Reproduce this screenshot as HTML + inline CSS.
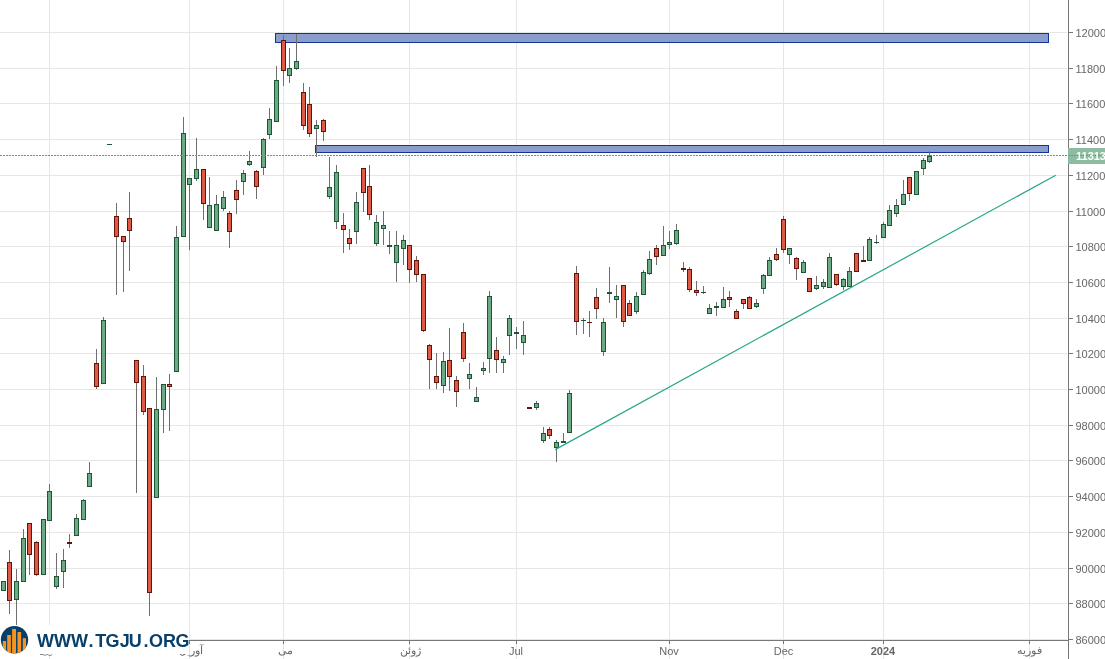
<!DOCTYPE html><html><head><meta charset="utf-8"><title>chart</title><style>
html,body{margin:0;padding:0;background:#fff;}
body{width:1105px;height:659px;overflow:hidden;position:relative;font-family:"Liberation Sans",sans-serif;}
svg{position:absolute;left:0;top:0;will-change:transform;}
.yl{font-size:11px;fill:#666666;}
.xl{font-size:11px;fill:#666666;}
</style></head><body>
<svg width="1105" height="659" viewBox="0 0 1105 659">
<g shape-rendering="crispEdges" fill="#e6e6e6">
<rect x="0" y="32" width="1067" height="1"/>
<rect x="0" y="68" width="1067" height="1"/>
<rect x="0" y="103" width="1067" height="1"/>
<rect x="0" y="139" width="1067" height="1"/>
<rect x="0" y="175" width="1067" height="1"/>
<rect x="0" y="211" width="1067" height="1"/>
<rect x="0" y="246" width="1067" height="1"/>
<rect x="0" y="282" width="1067" height="1"/>
<rect x="0" y="318" width="1067" height="1"/>
<rect x="0" y="353" width="1067" height="1"/>
<rect x="0" y="389" width="1067" height="1"/>
<rect x="0" y="425" width="1067" height="1"/>
<rect x="0" y="460" width="1067" height="1"/>
<rect x="0" y="496" width="1067" height="1"/>
<rect x="0" y="532" width="1067" height="1"/>
<rect x="0" y="568" width="1067" height="1"/>
<rect x="0" y="603" width="1067" height="1"/>
<rect x="0" y="639" width="1067" height="1"/>
<rect x="49" y="0" width="1" height="659"/>
<rect x="189" y="0" width="1" height="659"/>
<rect x="283" y="0" width="1" height="659"/>
<rect x="409" y="0" width="1" height="659"/>
<rect x="516" y="0" width="1" height="659"/>
<rect x="669" y="0" width="1" height="659"/>
<rect x="783" y="0" width="1" height="659"/>
<rect x="883" y="0" width="1" height="659"/>
<rect x="1029" y="0" width="1" height="659"/>
</g>
<g shape-rendering="crispEdges">
<rect x="275" y="33" width="774" height="10" fill="#12339a"/>
<rect x="276" y="34" width="772" height="8" fill="#8b9dcd"/>
<rect x="315" y="145" width="734" height="8" fill="#12339a"/>
<rect x="316" y="146" width="732" height="6" fill="#8b9dcd"/>
</g>
<g shape-rendering="crispEdges">
<rect x="1" y="581" width="5" height="10" fill="#1e5534"/>
<rect x="2" y="582" width="3" height="8" fill="#6caa86"/>
<rect x="9" y="550" width="1" height="12" fill="#6f6f6f"/>
<rect x="9" y="601" width="1" height="13" fill="#6f6f6f"/>
<rect x="7" y="562" width="5" height="39" fill="#62130a"/>
<rect x="8" y="563" width="3" height="37" fill="#dd5a47"/>
<rect x="16" y="569" width="1" height="12" fill="#6f6f6f"/>
<rect x="16" y="600" width="1" height="25" fill="#6f6f6f"/>
<rect x="14" y="581" width="5" height="19" fill="#1e5534"/>
<rect x="15" y="582" width="3" height="17" fill="#6caa86"/>
<rect x="23" y="529" width="1" height="9" fill="#6f6f6f"/>
<rect x="21" y="538" width="5" height="44" fill="#1e5534"/>
<rect x="22" y="539" width="3" height="42" fill="#6caa86"/>
<rect x="29" y="555" width="1" height="20" fill="#6f6f6f"/>
<rect x="27" y="523" width="5" height="32" fill="#62130a"/>
<rect x="28" y="524" width="3" height="30" fill="#dd5a47"/>
<rect x="36" y="541" width="1" height="1" fill="#6f6f6f"/>
<rect x="36" y="575" width="1" height="1" fill="#6f6f6f"/>
<rect x="34" y="542" width="5" height="33" fill="#62130a"/>
<rect x="35" y="543" width="3" height="31" fill="#dd5a47"/>
<rect x="41" y="519" width="5" height="56" fill="#1e5534"/>
<rect x="42" y="520" width="3" height="54" fill="#6caa86"/>
<rect x="49" y="484" width="1" height="7" fill="#6f6f6f"/>
<rect x="47" y="491" width="5" height="30" fill="#1e5534"/>
<rect x="48" y="492" width="3" height="28" fill="#6caa86"/>
<rect x="56" y="553" width="1" height="23" fill="#6f6f6f"/>
<rect x="56" y="587" width="1" height="2" fill="#6f6f6f"/>
<rect x="54" y="576" width="5" height="11" fill="#1e5534"/>
<rect x="55" y="577" width="3" height="9" fill="#6caa86"/>
<rect x="63" y="549" width="1" height="11" fill="#6f6f6f"/>
<rect x="63" y="572" width="1" height="16" fill="#6f6f6f"/>
<rect x="61" y="560" width="5" height="12" fill="#1e5534"/>
<rect x="62" y="561" width="3" height="10" fill="#6caa86"/>
<rect x="69" y="534" width="1" height="8" fill="#6f6f6f"/>
<rect x="69" y="544" width="1" height="4" fill="#6f6f6f"/>
<rect x="67" y="542" width="5" height="2" fill="#62130a"/>
<rect x="76" y="514" width="1" height="4" fill="#6f6f6f"/>
<rect x="74" y="518" width="5" height="18" fill="#1e5534"/>
<rect x="75" y="519" width="3" height="16" fill="#6caa86"/>
<rect x="83" y="499" width="1" height="1" fill="#6f6f6f"/>
<rect x="81" y="500" width="5" height="20" fill="#1e5534"/>
<rect x="82" y="501" width="3" height="18" fill="#6caa86"/>
<rect x="89" y="462" width="1" height="11" fill="#6f6f6f"/>
<rect x="87" y="473" width="5" height="14" fill="#1e5534"/>
<rect x="88" y="474" width="3" height="12" fill="#6caa86"/>
<rect x="96" y="349" width="1" height="14" fill="#6f6f6f"/>
<rect x="96" y="387" width="1" height="2" fill="#6f6f6f"/>
<rect x="94" y="363" width="5" height="24" fill="#62130a"/>
<rect x="95" y="364" width="3" height="22" fill="#dd5a47"/>
<rect x="103" y="317" width="1" height="3" fill="#6f6f6f"/>
<rect x="101" y="320" width="5" height="64" fill="#1e5534"/>
<rect x="102" y="321" width="3" height="62" fill="#6caa86"/>
<rect x="107" y="144" width="5" height="1" fill="#1e5534"/>
<rect x="116" y="203" width="1" height="13" fill="#6f6f6f"/>
<rect x="116" y="237" width="1" height="58" fill="#6f6f6f"/>
<rect x="114" y="216" width="5" height="21" fill="#62130a"/>
<rect x="115" y="217" width="3" height="19" fill="#dd5a47"/>
<rect x="123" y="242" width="1" height="50" fill="#6f6f6f"/>
<rect x="121" y="236" width="5" height="6" fill="#62130a"/>
<rect x="122" y="237" width="3" height="4" fill="#dd5a47"/>
<rect x="129" y="192" width="1" height="26" fill="#6f6f6f"/>
<rect x="129" y="231" width="1" height="40" fill="#6f6f6f"/>
<rect x="127" y="218" width="5" height="13" fill="#62130a"/>
<rect x="128" y="219" width="3" height="11" fill="#dd5a47"/>
<rect x="136" y="383" width="1" height="110" fill="#6f6f6f"/>
<rect x="134" y="360" width="5" height="23" fill="#62130a"/>
<rect x="135" y="361" width="3" height="21" fill="#dd5a47"/>
<rect x="143" y="365" width="1" height="11" fill="#6f6f6f"/>
<rect x="143" y="412" width="1" height="3" fill="#6f6f6f"/>
<rect x="141" y="376" width="5" height="36" fill="#62130a"/>
<rect x="142" y="377" width="3" height="34" fill="#dd5a47"/>
<rect x="149" y="593" width="1" height="23" fill="#6f6f6f"/>
<rect x="147" y="408" width="5" height="185" fill="#62130a"/>
<rect x="148" y="409" width="3" height="183" fill="#dd5a47"/>
<rect x="156" y="377" width="1" height="32" fill="#6f6f6f"/>
<rect x="154" y="409" width="5" height="89" fill="#1e5534"/>
<rect x="155" y="410" width="3" height="87" fill="#6caa86"/>
<rect x="163" y="410" width="1" height="23" fill="#6f6f6f"/>
<rect x="161" y="384" width="5" height="26" fill="#1e5534"/>
<rect x="162" y="385" width="3" height="24" fill="#6caa86"/>
<rect x="169" y="374" width="1" height="10" fill="#6f6f6f"/>
<rect x="169" y="387" width="1" height="44" fill="#6f6f6f"/>
<rect x="167" y="384" width="5" height="3" fill="#62130a"/>
<rect x="168" y="385" width="3" height="1" fill="#dd5a47"/>
<rect x="176" y="226" width="1" height="11" fill="#6f6f6f"/>
<rect x="174" y="237" width="5" height="135" fill="#1e5534"/>
<rect x="175" y="238" width="3" height="133" fill="#6caa86"/>
<rect x="183" y="117" width="1" height="16" fill="#6f6f6f"/>
<rect x="181" y="133" width="5" height="104" fill="#1e5534"/>
<rect x="182" y="134" width="3" height="102" fill="#6caa86"/>
<rect x="189" y="185" width="1" height="65" fill="#6f6f6f"/>
<rect x="187" y="178" width="5" height="7" fill="#1e5534"/>
<rect x="188" y="179" width="3" height="5" fill="#6caa86"/>
<rect x="196" y="138" width="1" height="31" fill="#6f6f6f"/>
<rect x="196" y="179" width="1" height="2" fill="#6f6f6f"/>
<rect x="194" y="169" width="5" height="10" fill="#1e5534"/>
<rect x="195" y="170" width="3" height="8" fill="#6caa86"/>
<rect x="203" y="204" width="1" height="16" fill="#6f6f6f"/>
<rect x="201" y="169" width="5" height="35" fill="#62130a"/>
<rect x="202" y="170" width="3" height="33" fill="#dd5a47"/>
<rect x="209" y="177" width="1" height="28" fill="#6f6f6f"/>
<rect x="207" y="205" width="5" height="23" fill="#1e5534"/>
<rect x="208" y="206" width="3" height="21" fill="#6caa86"/>
<rect x="216" y="195" width="1" height="9" fill="#6f6f6f"/>
<rect x="214" y="204" width="5" height="27" fill="#1e5534"/>
<rect x="215" y="205" width="3" height="25" fill="#6caa86"/>
<rect x="223" y="191" width="1" height="6" fill="#6f6f6f"/>
<rect x="223" y="209" width="1" height="2" fill="#6f6f6f"/>
<rect x="221" y="197" width="5" height="12" fill="#1e5534"/>
<rect x="222" y="198" width="3" height="10" fill="#6caa86"/>
<rect x="229" y="211" width="1" height="2" fill="#6f6f6f"/>
<rect x="229" y="232" width="1" height="16" fill="#6f6f6f"/>
<rect x="227" y="213" width="5" height="19" fill="#62130a"/>
<rect x="228" y="214" width="3" height="17" fill="#dd5a47"/>
<rect x="236" y="180" width="1" height="10" fill="#6f6f6f"/>
<rect x="236" y="200" width="1" height="14" fill="#6f6f6f"/>
<rect x="234" y="190" width="5" height="10" fill="#62130a"/>
<rect x="235" y="191" width="3" height="8" fill="#dd5a47"/>
<rect x="243" y="170" width="1" height="3" fill="#6f6f6f"/>
<rect x="243" y="182" width="1" height="13" fill="#6f6f6f"/>
<rect x="241" y="173" width="5" height="9" fill="#1e5534"/>
<rect x="242" y="174" width="3" height="7" fill="#6caa86"/>
<rect x="249" y="151" width="1" height="10" fill="#6f6f6f"/>
<rect x="249" y="165" width="1" height="1" fill="#6f6f6f"/>
<rect x="247" y="161" width="5" height="4" fill="#1e5534"/>
<rect x="248" y="162" width="3" height="2" fill="#6caa86"/>
<rect x="256" y="170" width="1" height="1" fill="#6f6f6f"/>
<rect x="256" y="187" width="1" height="12" fill="#6f6f6f"/>
<rect x="254" y="171" width="5" height="16" fill="#62130a"/>
<rect x="255" y="172" width="3" height="14" fill="#dd5a47"/>
<rect x="263" y="138" width="1" height="1" fill="#6f6f6f"/>
<rect x="263" y="168" width="1" height="7" fill="#6f6f6f"/>
<rect x="261" y="139" width="5" height="29" fill="#1e5534"/>
<rect x="262" y="140" width="3" height="27" fill="#6caa86"/>
<rect x="269" y="108" width="1" height="11" fill="#6f6f6f"/>
<rect x="269" y="135" width="1" height="4" fill="#6f6f6f"/>
<rect x="267" y="119" width="5" height="16" fill="#1e5534"/>
<rect x="268" y="120" width="3" height="14" fill="#6caa86"/>
<rect x="276" y="66" width="1" height="14" fill="#6f6f6f"/>
<rect x="274" y="80" width="5" height="42" fill="#1e5534"/>
<rect x="275" y="81" width="3" height="40" fill="#6caa86"/>
<rect x="283" y="35" width="1" height="5" fill="#6f6f6f"/>
<rect x="283" y="71" width="1" height="15" fill="#6f6f6f"/>
<rect x="281" y="40" width="5" height="31" fill="#62130a"/>
<rect x="282" y="41" width="3" height="29" fill="#dd5a47"/>
<rect x="289" y="48" width="1" height="20" fill="#6f6f6f"/>
<rect x="289" y="76" width="1" height="7" fill="#6f6f6f"/>
<rect x="287" y="68" width="5" height="8" fill="#1e5534"/>
<rect x="288" y="69" width="3" height="6" fill="#6caa86"/>
<rect x="296" y="34" width="1" height="27" fill="#6f6f6f"/>
<rect x="296" y="69" width="1" height="1" fill="#6f6f6f"/>
<rect x="294" y="61" width="5" height="8" fill="#1e5534"/>
<rect x="295" y="62" width="3" height="6" fill="#6caa86"/>
<rect x="303" y="83" width="1" height="9" fill="#6f6f6f"/>
<rect x="303" y="126" width="1" height="4" fill="#6f6f6f"/>
<rect x="301" y="92" width="5" height="34" fill="#62130a"/>
<rect x="302" y="93" width="3" height="32" fill="#dd5a47"/>
<rect x="309" y="87" width="1" height="17" fill="#6f6f6f"/>
<rect x="309" y="134" width="1" height="3" fill="#6f6f6f"/>
<rect x="307" y="104" width="5" height="30" fill="#62130a"/>
<rect x="308" y="105" width="3" height="28" fill="#dd5a47"/>
<rect x="316" y="120" width="1" height="5" fill="#6f6f6f"/>
<rect x="316" y="129" width="1" height="28" fill="#6f6f6f"/>
<rect x="314" y="125" width="5" height="4" fill="#1e5534"/>
<rect x="315" y="126" width="3" height="2" fill="#6caa86"/>
<rect x="323" y="119" width="1" height="1" fill="#6f6f6f"/>
<rect x="323" y="132" width="1" height="9" fill="#6f6f6f"/>
<rect x="321" y="120" width="5" height="12" fill="#62130a"/>
<rect x="322" y="121" width="3" height="10" fill="#dd5a47"/>
<rect x="329" y="157" width="1" height="30" fill="#6f6f6f"/>
<rect x="329" y="197" width="1" height="2" fill="#6f6f6f"/>
<rect x="327" y="187" width="5" height="10" fill="#1e5534"/>
<rect x="328" y="188" width="3" height="8" fill="#6caa86"/>
<rect x="336" y="165" width="1" height="7" fill="#6f6f6f"/>
<rect x="336" y="222" width="1" height="7" fill="#6f6f6f"/>
<rect x="334" y="172" width="5" height="50" fill="#1e5534"/>
<rect x="335" y="173" width="3" height="48" fill="#6caa86"/>
<rect x="343" y="213" width="1" height="12" fill="#6f6f6f"/>
<rect x="343" y="230" width="1" height="23" fill="#6f6f6f"/>
<rect x="341" y="225" width="5" height="5" fill="#62130a"/>
<rect x="342" y="226" width="3" height="3" fill="#dd5a47"/>
<rect x="349" y="229" width="1" height="9" fill="#6f6f6f"/>
<rect x="349" y="244" width="1" height="6" fill="#6f6f6f"/>
<rect x="347" y="238" width="5" height="6" fill="#62130a"/>
<rect x="348" y="239" width="3" height="4" fill="#dd5a47"/>
<rect x="356" y="192" width="1" height="10" fill="#6f6f6f"/>
<rect x="356" y="232" width="1" height="12" fill="#6f6f6f"/>
<rect x="354" y="202" width="5" height="30" fill="#1e5534"/>
<rect x="355" y="203" width="3" height="28" fill="#6caa86"/>
<rect x="363" y="193" width="1" height="19" fill="#6f6f6f"/>
<rect x="361" y="168" width="5" height="25" fill="#62130a"/>
<rect x="362" y="169" width="3" height="23" fill="#dd5a47"/>
<rect x="369" y="165" width="1" height="21" fill="#6f6f6f"/>
<rect x="369" y="215" width="1" height="5" fill="#6f6f6f"/>
<rect x="367" y="186" width="5" height="29" fill="#62130a"/>
<rect x="368" y="187" width="3" height="27" fill="#dd5a47"/>
<rect x="376" y="215" width="1" height="7" fill="#6f6f6f"/>
<rect x="376" y="244" width="1" height="2" fill="#6f6f6f"/>
<rect x="374" y="222" width="5" height="22" fill="#1e5534"/>
<rect x="375" y="223" width="3" height="20" fill="#6caa86"/>
<rect x="383" y="211" width="1" height="14" fill="#6f6f6f"/>
<rect x="383" y="229" width="1" height="16" fill="#6f6f6f"/>
<rect x="381" y="225" width="5" height="4" fill="#1e5534"/>
<rect x="382" y="226" width="3" height="2" fill="#6caa86"/>
<rect x="389" y="231" width="1" height="14" fill="#6f6f6f"/>
<rect x="389" y="247" width="1" height="7" fill="#6f6f6f"/>
<rect x="387" y="245" width="5" height="2" fill="#1e5534"/>
<rect x="396" y="231" width="1" height="14" fill="#6f6f6f"/>
<rect x="396" y="263" width="1" height="19" fill="#6f6f6f"/>
<rect x="394" y="245" width="5" height="18" fill="#1e5534"/>
<rect x="395" y="246" width="3" height="16" fill="#6caa86"/>
<rect x="403" y="235" width="1" height="5" fill="#6f6f6f"/>
<rect x="403" y="249" width="1" height="16" fill="#6f6f6f"/>
<rect x="401" y="240" width="5" height="9" fill="#1e5534"/>
<rect x="402" y="241" width="3" height="7" fill="#6caa86"/>
<rect x="409" y="270" width="1" height="13" fill="#6f6f6f"/>
<rect x="407" y="245" width="5" height="25" fill="#62130a"/>
<rect x="408" y="246" width="3" height="23" fill="#dd5a47"/>
<rect x="416" y="256" width="1" height="4" fill="#6f6f6f"/>
<rect x="416" y="275" width="1" height="7" fill="#6f6f6f"/>
<rect x="414" y="260" width="5" height="15" fill="#62130a"/>
<rect x="415" y="261" width="3" height="13" fill="#dd5a47"/>
<rect x="423" y="331" width="1" height="1" fill="#6f6f6f"/>
<rect x="421" y="274" width="5" height="57" fill="#62130a"/>
<rect x="422" y="275" width="3" height="55" fill="#dd5a47"/>
<rect x="429" y="344" width="1" height="1" fill="#6f6f6f"/>
<rect x="429" y="360" width="1" height="29" fill="#6f6f6f"/>
<rect x="427" y="345" width="5" height="15" fill="#62130a"/>
<rect x="428" y="346" width="3" height="13" fill="#dd5a47"/>
<rect x="436" y="353" width="1" height="23" fill="#6f6f6f"/>
<rect x="436" y="383" width="1" height="6" fill="#6f6f6f"/>
<rect x="434" y="376" width="5" height="7" fill="#62130a"/>
<rect x="435" y="377" width="3" height="5" fill="#dd5a47"/>
<rect x="443" y="352" width="1" height="9" fill="#6f6f6f"/>
<rect x="443" y="386" width="1" height="7" fill="#6f6f6f"/>
<rect x="441" y="361" width="5" height="25" fill="#1e5534"/>
<rect x="442" y="362" width="3" height="23" fill="#6caa86"/>
<rect x="449" y="328" width="1" height="32" fill="#6f6f6f"/>
<rect x="449" y="377" width="1" height="14" fill="#6f6f6f"/>
<rect x="447" y="360" width="5" height="17" fill="#62130a"/>
<rect x="448" y="361" width="3" height="15" fill="#dd5a47"/>
<rect x="456" y="376" width="1" height="4" fill="#6f6f6f"/>
<rect x="456" y="392" width="1" height="15" fill="#6f6f6f"/>
<rect x="454" y="380" width="5" height="12" fill="#62130a"/>
<rect x="455" y="381" width="3" height="10" fill="#dd5a47"/>
<rect x="463" y="323" width="1" height="9" fill="#6f6f6f"/>
<rect x="463" y="359" width="1" height="3" fill="#6f6f6f"/>
<rect x="461" y="332" width="5" height="27" fill="#62130a"/>
<rect x="462" y="333" width="3" height="25" fill="#dd5a47"/>
<rect x="469" y="363" width="1" height="11" fill="#6f6f6f"/>
<rect x="469" y="379" width="1" height="10" fill="#6f6f6f"/>
<rect x="467" y="374" width="5" height="5" fill="#1e5534"/>
<rect x="468" y="375" width="3" height="3" fill="#6caa86"/>
<rect x="476" y="387" width="1" height="10" fill="#6f6f6f"/>
<rect x="474" y="397" width="5" height="5" fill="#1e5534"/>
<rect x="475" y="398" width="3" height="3" fill="#6caa86"/>
<rect x="483" y="362" width="1" height="6" fill="#6f6f6f"/>
<rect x="483" y="371" width="1" height="4" fill="#6f6f6f"/>
<rect x="481" y="368" width="5" height="3" fill="#1e5534"/>
<rect x="482" y="369" width="3" height="1" fill="#6caa86"/>
<rect x="489" y="291" width="1" height="5" fill="#6f6f6f"/>
<rect x="489" y="359" width="1" height="14" fill="#6f6f6f"/>
<rect x="487" y="296" width="5" height="63" fill="#1e5534"/>
<rect x="488" y="297" width="3" height="61" fill="#6caa86"/>
<rect x="496" y="337" width="1" height="13" fill="#6f6f6f"/>
<rect x="496" y="360" width="1" height="13" fill="#6f6f6f"/>
<rect x="494" y="350" width="5" height="10" fill="#62130a"/>
<rect x="495" y="351" width="3" height="8" fill="#dd5a47"/>
<rect x="503" y="356" width="1" height="3" fill="#6f6f6f"/>
<rect x="503" y="363" width="1" height="10" fill="#6f6f6f"/>
<rect x="501" y="359" width="5" height="4" fill="#1e5534"/>
<rect x="502" y="360" width="3" height="2" fill="#6caa86"/>
<rect x="509" y="315" width="1" height="3" fill="#6f6f6f"/>
<rect x="509" y="336" width="1" height="19" fill="#6f6f6f"/>
<rect x="507" y="318" width="5" height="18" fill="#1e5534"/>
<rect x="508" y="319" width="3" height="16" fill="#6caa86"/>
<rect x="516" y="327" width="1" height="5" fill="#6f6f6f"/>
<rect x="516" y="334" width="1" height="15" fill="#6f6f6f"/>
<rect x="514" y="332" width="5" height="2" fill="#1e5534"/>
<rect x="523" y="321" width="1" height="14" fill="#6f6f6f"/>
<rect x="523" y="343" width="1" height="12" fill="#6f6f6f"/>
<rect x="521" y="335" width="5" height="8" fill="#1e5534"/>
<rect x="522" y="336" width="3" height="6" fill="#6caa86"/>
<rect x="527" y="407" width="5" height="2" fill="#62130a"/>
<rect x="536" y="401" width="1" height="2" fill="#6f6f6f"/>
<rect x="536" y="408" width="1" height="2" fill="#6f6f6f"/>
<rect x="534" y="403" width="5" height="5" fill="#1e5534"/>
<rect x="535" y="404" width="3" height="3" fill="#6caa86"/>
<rect x="543" y="427" width="1" height="6" fill="#6f6f6f"/>
<rect x="543" y="441" width="1" height="2" fill="#6f6f6f"/>
<rect x="541" y="433" width="5" height="8" fill="#1e5534"/>
<rect x="542" y="434" width="3" height="6" fill="#6caa86"/>
<rect x="549" y="427" width="1" height="2" fill="#6f6f6f"/>
<rect x="549" y="436" width="1" height="3" fill="#6f6f6f"/>
<rect x="547" y="429" width="5" height="7" fill="#62130a"/>
<rect x="548" y="430" width="3" height="5" fill="#dd5a47"/>
<rect x="556" y="440" width="1" height="2" fill="#6f6f6f"/>
<rect x="556" y="448" width="1" height="14" fill="#6f6f6f"/>
<rect x="554" y="442" width="5" height="6" fill="#1e5534"/>
<rect x="555" y="443" width="3" height="4" fill="#6caa86"/>
<rect x="563" y="433" width="1" height="8" fill="#6f6f6f"/>
<rect x="561" y="441" width="5" height="2" fill="#1e5534"/>
<rect x="569" y="390" width="1" height="3" fill="#6f6f6f"/>
<rect x="567" y="393" width="5" height="40" fill="#1e5534"/>
<rect x="568" y="394" width="3" height="38" fill="#6caa86"/>
<rect x="576" y="266" width="1" height="7" fill="#6f6f6f"/>
<rect x="576" y="322" width="1" height="13" fill="#6f6f6f"/>
<rect x="574" y="273" width="5" height="49" fill="#62130a"/>
<rect x="575" y="274" width="3" height="47" fill="#dd5a47"/>
<rect x="583" y="318" width="1" height="2" fill="#6f6f6f"/>
<rect x="583" y="321" width="1" height="13" fill="#6f6f6f"/>
<rect x="581" y="320" width="5" height="1" fill="#1e5534"/>
<rect x="589" y="311" width="1" height="11" fill="#6f6f6f"/>
<rect x="589" y="323" width="1" height="14" fill="#6f6f6f"/>
<rect x="587" y="322" width="5" height="1" fill="#62130a"/>
<rect x="596" y="288" width="1" height="9" fill="#6f6f6f"/>
<rect x="596" y="309" width="1" height="10" fill="#6f6f6f"/>
<rect x="594" y="297" width="5" height="12" fill="#62130a"/>
<rect x="595" y="298" width="3" height="10" fill="#dd5a47"/>
<rect x="603" y="318" width="1" height="4" fill="#6f6f6f"/>
<rect x="603" y="352" width="1" height="4" fill="#6f6f6f"/>
<rect x="601" y="322" width="5" height="30" fill="#1e5534"/>
<rect x="602" y="323" width="3" height="28" fill="#6caa86"/>
<rect x="609" y="267" width="1" height="25" fill="#6f6f6f"/>
<rect x="609" y="294" width="1" height="9" fill="#6f6f6f"/>
<rect x="607" y="292" width="5" height="2" fill="#1e5534"/>
<rect x="616" y="285" width="1" height="11" fill="#6f6f6f"/>
<rect x="616" y="300" width="1" height="18" fill="#6f6f6f"/>
<rect x="614" y="296" width="5" height="4" fill="#1e5534"/>
<rect x="615" y="297" width="3" height="2" fill="#6caa86"/>
<rect x="623" y="322" width="1" height="5" fill="#6f6f6f"/>
<rect x="621" y="285" width="5" height="37" fill="#62130a"/>
<rect x="622" y="286" width="3" height="35" fill="#dd5a47"/>
<rect x="629" y="300" width="1" height="3" fill="#6f6f6f"/>
<rect x="627" y="303" width="5" height="13" fill="#62130a"/>
<rect x="628" y="304" width="3" height="11" fill="#dd5a47"/>
<rect x="636" y="292" width="1" height="4" fill="#6f6f6f"/>
<rect x="636" y="312" width="1" height="2" fill="#6f6f6f"/>
<rect x="634" y="296" width="5" height="16" fill="#1e5534"/>
<rect x="635" y="297" width="3" height="14" fill="#6caa86"/>
<rect x="643" y="270" width="1" height="2" fill="#6f6f6f"/>
<rect x="641" y="272" width="5" height="23" fill="#1e5534"/>
<rect x="642" y="273" width="3" height="21" fill="#6caa86"/>
<rect x="649" y="251" width="1" height="8" fill="#6f6f6f"/>
<rect x="649" y="274" width="1" height="1" fill="#6f6f6f"/>
<rect x="647" y="259" width="5" height="15" fill="#1e5534"/>
<rect x="648" y="260" width="3" height="13" fill="#6caa86"/>
<rect x="656" y="245" width="1" height="3" fill="#6f6f6f"/>
<rect x="656" y="257" width="1" height="8" fill="#6f6f6f"/>
<rect x="654" y="248" width="5" height="9" fill="#62130a"/>
<rect x="655" y="249" width="3" height="7" fill="#dd5a47"/>
<rect x="663" y="226" width="1" height="19" fill="#6f6f6f"/>
<rect x="661" y="245" width="5" height="11" fill="#1e5534"/>
<rect x="662" y="246" width="3" height="9" fill="#6caa86"/>
<rect x="669" y="231" width="1" height="11" fill="#6f6f6f"/>
<rect x="669" y="245" width="1" height="4" fill="#6f6f6f"/>
<rect x="667" y="242" width="5" height="3" fill="#1e5534"/>
<rect x="668" y="243" width="3" height="1" fill="#6caa86"/>
<rect x="676" y="224" width="1" height="6" fill="#6f6f6f"/>
<rect x="676" y="244" width="1" height="1" fill="#6f6f6f"/>
<rect x="674" y="230" width="5" height="14" fill="#1e5534"/>
<rect x="675" y="231" width="3" height="12" fill="#6caa86"/>
<rect x="683" y="262" width="1" height="6" fill="#6f6f6f"/>
<rect x="683" y="270" width="1" height="2" fill="#6f6f6f"/>
<rect x="681" y="268" width="5" height="2" fill="#62130a"/>
<rect x="689" y="267" width="1" height="2" fill="#6f6f6f"/>
<rect x="689" y="290" width="1" height="2" fill="#6f6f6f"/>
<rect x="687" y="269" width="5" height="21" fill="#62130a"/>
<rect x="688" y="270" width="3" height="19" fill="#dd5a47"/>
<rect x="696" y="281" width="1" height="9" fill="#6f6f6f"/>
<rect x="696" y="293" width="1" height="3" fill="#6f6f6f"/>
<rect x="694" y="290" width="5" height="3" fill="#62130a"/>
<rect x="695" y="291" width="3" height="1" fill="#dd5a47"/>
<rect x="703" y="286" width="1" height="6" fill="#6f6f6f"/>
<rect x="703" y="293" width="1" height="1" fill="#6f6f6f"/>
<rect x="701" y="292" width="5" height="1" fill="#1e5534"/>
<rect x="709" y="304" width="1" height="4" fill="#6f6f6f"/>
<rect x="707" y="308" width="5" height="6" fill="#1e5534"/>
<rect x="708" y="309" width="3" height="4" fill="#6caa86"/>
<rect x="716" y="302" width="1" height="4" fill="#6f6f6f"/>
<rect x="716" y="308" width="1" height="8" fill="#6f6f6f"/>
<rect x="714" y="306" width="5" height="2" fill="#1e5534"/>
<rect x="723" y="287" width="1" height="12" fill="#6f6f6f"/>
<rect x="721" y="299" width="5" height="9" fill="#1e5534"/>
<rect x="722" y="300" width="3" height="7" fill="#6caa86"/>
<rect x="729" y="291" width="1" height="6" fill="#6f6f6f"/>
<rect x="729" y="300" width="1" height="7" fill="#6f6f6f"/>
<rect x="727" y="297" width="5" height="3" fill="#62130a"/>
<rect x="728" y="298" width="3" height="1" fill="#dd5a47"/>
<rect x="736" y="309" width="1" height="2" fill="#6f6f6f"/>
<rect x="734" y="311" width="5" height="8" fill="#62130a"/>
<rect x="735" y="312" width="3" height="6" fill="#dd5a47"/>
<rect x="743" y="304" width="1" height="5" fill="#6f6f6f"/>
<rect x="741" y="299" width="5" height="5" fill="#62130a"/>
<rect x="742" y="300" width="3" height="3" fill="#dd5a47"/>
<rect x="749" y="296" width="1" height="1" fill="#6f6f6f"/>
<rect x="747" y="297" width="5" height="12" fill="#62130a"/>
<rect x="748" y="298" width="3" height="10" fill="#dd5a47"/>
<rect x="756" y="299" width="1" height="4" fill="#6f6f6f"/>
<rect x="756" y="307" width="1" height="1" fill="#6f6f6f"/>
<rect x="754" y="303" width="5" height="4" fill="#1e5534"/>
<rect x="755" y="304" width="3" height="2" fill="#6caa86"/>
<rect x="763" y="274" width="1" height="1" fill="#6f6f6f"/>
<rect x="763" y="289" width="1" height="5" fill="#6f6f6f"/>
<rect x="761" y="275" width="5" height="14" fill="#1e5534"/>
<rect x="762" y="276" width="3" height="12" fill="#6caa86"/>
<rect x="769" y="257" width="1" height="3" fill="#6f6f6f"/>
<rect x="767" y="260" width="5" height="16" fill="#1e5534"/>
<rect x="768" y="261" width="3" height="14" fill="#6caa86"/>
<rect x="776" y="248" width="1" height="6" fill="#6f6f6f"/>
<rect x="776" y="260" width="1" height="1" fill="#6f6f6f"/>
<rect x="774" y="254" width="5" height="6" fill="#62130a"/>
<rect x="775" y="255" width="3" height="4" fill="#dd5a47"/>
<rect x="783" y="216" width="1" height="3" fill="#6f6f6f"/>
<rect x="783" y="250" width="1" height="3" fill="#6f6f6f"/>
<rect x="781" y="219" width="5" height="31" fill="#62130a"/>
<rect x="782" y="220" width="3" height="29" fill="#dd5a47"/>
<rect x="789" y="255" width="1" height="9" fill="#6f6f6f"/>
<rect x="787" y="248" width="5" height="7" fill="#1e5534"/>
<rect x="788" y="249" width="3" height="5" fill="#6caa86"/>
<rect x="796" y="257" width="1" height="1" fill="#6f6f6f"/>
<rect x="796" y="269" width="1" height="11" fill="#6f6f6f"/>
<rect x="794" y="258" width="5" height="11" fill="#62130a"/>
<rect x="795" y="259" width="3" height="9" fill="#dd5a47"/>
<rect x="803" y="260" width="1" height="2" fill="#6f6f6f"/>
<rect x="801" y="262" width="5" height="11" fill="#1e5534"/>
<rect x="802" y="263" width="3" height="9" fill="#6caa86"/>
<rect x="807" y="278" width="5" height="14" fill="#62130a"/>
<rect x="808" y="279" width="3" height="12" fill="#dd5a47"/>
<rect x="816" y="276" width="1" height="9" fill="#6f6f6f"/>
<rect x="816" y="289" width="1" height="1" fill="#6f6f6f"/>
<rect x="814" y="285" width="5" height="4" fill="#1e5534"/>
<rect x="815" y="286" width="3" height="2" fill="#6caa86"/>
<rect x="823" y="279" width="1" height="3" fill="#6f6f6f"/>
<rect x="823" y="287" width="1" height="2" fill="#6f6f6f"/>
<rect x="821" y="282" width="5" height="5" fill="#1e5534"/>
<rect x="822" y="283" width="3" height="3" fill="#6caa86"/>
<rect x="829" y="253" width="1" height="4" fill="#6f6f6f"/>
<rect x="827" y="257" width="5" height="31" fill="#1e5534"/>
<rect x="828" y="258" width="3" height="29" fill="#6caa86"/>
<rect x="836" y="285" width="1" height="1" fill="#6f6f6f"/>
<rect x="834" y="274" width="5" height="11" fill="#62130a"/>
<rect x="835" y="275" width="3" height="9" fill="#dd5a47"/>
<rect x="843" y="278" width="1" height="1" fill="#6f6f6f"/>
<rect x="843" y="287" width="1" height="3" fill="#6f6f6f"/>
<rect x="841" y="279" width="5" height="8" fill="#1e5534"/>
<rect x="842" y="280" width="3" height="6" fill="#6caa86"/>
<rect x="849" y="267" width="1" height="4" fill="#6f6f6f"/>
<rect x="847" y="271" width="5" height="16" fill="#1e5534"/>
<rect x="848" y="272" width="3" height="14" fill="#6caa86"/>
<rect x="854" y="253" width="5" height="19" fill="#62130a"/>
<rect x="855" y="254" width="3" height="17" fill="#dd5a47"/>
<rect x="863" y="246" width="1" height="14" fill="#6f6f6f"/>
<rect x="861" y="260" width="5" height="2" fill="#62130a"/>
<rect x="869" y="237" width="1" height="2" fill="#6f6f6f"/>
<rect x="867" y="239" width="5" height="22" fill="#1e5534"/>
<rect x="868" y="240" width="3" height="20" fill="#6caa86"/>
<rect x="876" y="235" width="1" height="7" fill="#6f6f6f"/>
<rect x="876" y="243" width="1" height="1" fill="#6f6f6f"/>
<rect x="874" y="242" width="5" height="1" fill="#1e5534"/>
<rect x="883" y="222" width="1" height="2" fill="#6f6f6f"/>
<rect x="881" y="224" width="5" height="14" fill="#1e5534"/>
<rect x="882" y="225" width="3" height="12" fill="#6caa86"/>
<rect x="889" y="205" width="1" height="5" fill="#6f6f6f"/>
<rect x="887" y="210" width="5" height="16" fill="#1e5534"/>
<rect x="888" y="211" width="3" height="14" fill="#6caa86"/>
<rect x="896" y="199" width="1" height="6" fill="#6f6f6f"/>
<rect x="896" y="214" width="1" height="3" fill="#6f6f6f"/>
<rect x="894" y="205" width="5" height="9" fill="#1e5534"/>
<rect x="895" y="206" width="3" height="7" fill="#6caa86"/>
<rect x="903" y="180" width="1" height="14" fill="#6f6f6f"/>
<rect x="901" y="194" width="5" height="11" fill="#1e5534"/>
<rect x="902" y="195" width="3" height="9" fill="#6caa86"/>
<rect x="909" y="194" width="1" height="7" fill="#6f6f6f"/>
<rect x="907" y="177" width="5" height="17" fill="#62130a"/>
<rect x="908" y="178" width="3" height="15" fill="#dd5a47"/>
<rect x="914" y="171" width="5" height="24" fill="#1e5534"/>
<rect x="915" y="172" width="3" height="22" fill="#6caa86"/>
<rect x="923" y="158" width="1" height="2" fill="#6f6f6f"/>
<rect x="923" y="169" width="1" height="6" fill="#6f6f6f"/>
<rect x="921" y="160" width="5" height="9" fill="#1e5534"/>
<rect x="922" y="161" width="3" height="7" fill="#6caa86"/>
<rect x="929" y="151" width="1" height="5" fill="#6f6f6f"/>
<rect x="929" y="162" width="1" height="1" fill="#6f6f6f"/>
<rect x="927" y="156" width="5" height="6" fill="#1e5534"/>
<rect x="928" y="157" width="3" height="4" fill="#6caa86"/>
</g>
<line x1="555.2" y1="449.6" x2="1055.8" y2="175.2" stroke="#27a68a" stroke-width="1.2"/>
<line x1="0" y1="155.5" x2="1105" y2="155.5" stroke="#5a9c74" stroke-width="1" stroke-dasharray="2,1" shape-rendering="crispEdges"/>
<g shape-rendering="crispEdges" fill="#777777">
<rect x="1068" y="0" width="1" height="659"/>
<rect x="189" y="640" width="879" height="1"/>
<rect x="1069" y="32" width="4" height="1"/>
<rect x="1069" y="68" width="4" height="1"/>
<rect x="1069" y="103" width="4" height="1"/>
<rect x="1069" y="139" width="4" height="1"/>
<rect x="1069" y="175" width="4" height="1"/>
<rect x="1069" y="211" width="4" height="1"/>
<rect x="1069" y="246" width="4" height="1"/>
<rect x="1069" y="282" width="4" height="1"/>
<rect x="1069" y="318" width="4" height="1"/>
<rect x="1069" y="353" width="4" height="1"/>
<rect x="1069" y="389" width="4" height="1"/>
<rect x="1069" y="425" width="4" height="1"/>
<rect x="1069" y="460" width="4" height="1"/>
<rect x="1069" y="496" width="4" height="1"/>
<rect x="1069" y="532" width="4" height="1"/>
<rect x="1069" y="568" width="4" height="1"/>
<rect x="1069" y="603" width="4" height="1"/>
<rect x="1069" y="639" width="4" height="1"/>
<rect x="49" y="641" width="1" height="3"/>
<rect x="189" y="641" width="1" height="3"/>
<rect x="283" y="641" width="1" height="3"/>
<rect x="409" y="641" width="1" height="3"/>
<rect x="516" y="641" width="1" height="3"/>
<rect x="669" y="641" width="1" height="3"/>
<rect x="783" y="641" width="1" height="3"/>
<rect x="883" y="641" width="1" height="3"/>
<rect x="1029" y="641" width="1" height="3"/>
</g>
<text class="yl" x="1075.5" y="36.5">12000</text>
<text class="yl" x="1075.5" y="72.5">11800</text>
<text class="yl" x="1075.5" y="107.5">11600</text>
<text class="yl" x="1075.5" y="143.5">11400</text>
<text class="yl" x="1075.5" y="179.5">11200</text>
<text class="yl" x="1075.5" y="215.5">11000</text>
<text class="yl" x="1075.5" y="250.5">10800</text>
<text class="yl" x="1075.5" y="286.5">10600</text>
<text class="yl" x="1075.5" y="322.5">10400</text>
<text class="yl" x="1075.5" y="357.5">10200</text>
<text class="yl" x="1075.5" y="393.5">10000</text>
<text class="yl" x="1075.5" y="429.5">98000</text>
<text class="yl" x="1075.5" y="464.5">96000</text>
<text class="yl" x="1075.5" y="500.5">94000</text>
<text class="yl" x="1075.5" y="536.5">92000</text>
<text class="yl" x="1075.5" y="572.5">90000</text>
<text class="yl" x="1075.5" y="607.5">88000</text>
<text class="yl" x="1075.5" y="643.5">86000</text>
<rect x="1068" y="148" width="37" height="16" fill="#8dbca0" shape-rendering="crispEdges"/>
<line x1="1068" y1="155.5" x2="1105" y2="155.5" stroke="#5a9f78" stroke-width="1" stroke-dasharray="2,1" shape-rendering="crispEdges"/>
<text x="1076" y="160" font-size="11" font-weight="bold" fill="#ffffff">11313</text>
<path d="M40,654.5 L43,654.5 Q44.8,656.3 46.6,654.6 M47.2,654 L47.8,655.2 M48.3,655 Q50.2,656.6 52.2,654.5" fill="none" stroke="#777" stroke-width="0.9"/>
<text class="xl" x="191.0" y="654" text-anchor="middle">آوریل</text>
<text class="xl" x="285.0" y="654" text-anchor="middle">می</text>
<text class="xl" x="410.0" y="654" text-anchor="middle">ژوئن</text>
<text class="xl" x="516.0" y="655" text-anchor="middle">Jul</text>
<text class="xl" x="669.0" y="655" text-anchor="middle">Nov</text>
<text class="xl" x="783.5" y="655" text-anchor="middle">Dec</text>
<text class="xl" x="883.0" y="655" text-anchor="middle" font-weight="bold">2024</text>
<text class="xl" x="1029.0" y="654" text-anchor="middle">فوریه</text>
<rect x="0" y="625" width="189" height="29" fill="#ffffff" shape-rendering="crispEdges"/>
<defs><clipPath id="lc"><circle cx="14.5" cy="639.7" r="13.7"/></clipPath></defs>
<circle cx="14.5" cy="639.7" r="13.7" fill="#073f6b"/>
<g clip-path="url(#lc)" fill="#f7941d">
<rect x="2.8" y="641.0" width="3.3" height="19.0"/>
<rect x="7.2" y="635.0" width="3.7" height="25.0"/>
<rect x="12.1" y="628.9" width="3.9" height="31.1"/>
<rect x="17.5" y="632.0" width="3.6" height="28.0"/>
<rect x="22.8" y="638.2" width="3.2" height="21.8"/>
</g>
<text x="37 53.98 70.97 88.6 95.2 105.4 119.7 128.8 143.4 148.9 163.1 175.5" y="647" font-size="18" font-weight="bold" fill="#073f6b">WWW.TGJU.ORG</text>
</svg>
</body></html>
